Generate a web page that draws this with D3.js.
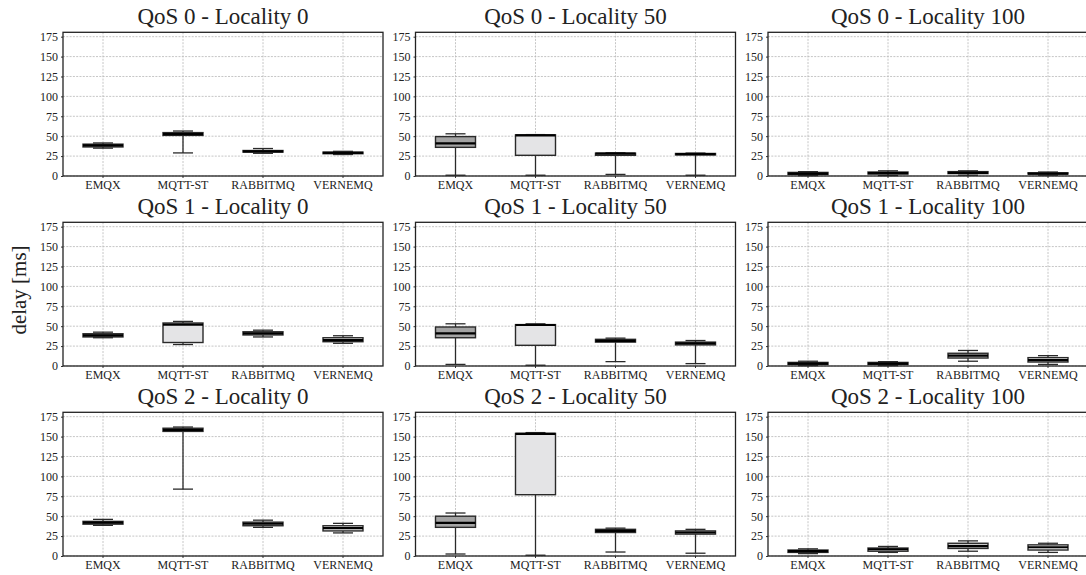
<!DOCTYPE html>
<html>
<head>
<meta charset="utf-8">
<script src="https://cdn.jsdelivr.net/npm/d3@7"></script>
<style>
  body { margin: 0; background: #fff; }
</style>
</head>
<body>
<div id="chart"></div>
<script>
// categories / panels
const brokers = ["EMQX", "MQTT-ST", "RABBITMQ", "VERNEMQ"];
const qosLevels = [0, 1, 2];
const localities = [0, 50, 100];
const yTicks = [0, 25, 50, 75, 100, 125, 150, 175];
const boxColors = ["#a4a4a4", "#e4e4e6", "#c9c9c9", "#efefef"];

// [whisker low, q1, median, q3, whisker high] per broker
const qos0loc0 = [[35, 36.5, 38.5, 40, 41.5], [29, 51, 52.5, 54.5, 56.5], [28.5, 30, 31, 32, 34.5], [27, 28, 29, 30, 31]];
const qos0loc50 = [[1, 36, 41, 49.5, 53], [1, 26, 51, 51.7, 52], [2, 26, 28, 28.7, 29.2], [1, 26.5, 27.5, 28.3, 28.8]];
const qos0loc100 = [[0.5, 2, 3, 4.5, 5.5], [0.5, 2.5, 3.5, 5, 6.5], [1, 3, 4, 5.5, 6.5], [1, 2.5, 3, 4, 5]];
const qos1loc0 = [[35.5, 36.5, 38.5, 40.5, 42.5], [27, 29.5, 52, 54, 56], [36.5, 39, 41, 43, 45], [28.5, 30.5, 32.5, 35.5, 38]];
const qos1loc50 = [[2, 35.5, 41, 49, 53], [1, 26, 51.5, 52, 53], [5.5, 30, 31.5, 33.5, 35], [3, 26.5, 28.5, 30, 32]];
const qos1loc100 = [[0.5, 2, 3, 4.5, 6], [0.5, 2, 3, 4.5, 5.5], [6, 10, 13, 16, 19.5], [2, 5, 7.5, 10.5, 13]];
const qos2loc0 = [[38.5, 40, 42, 43.5, 46], [84, 156.5, 158.5, 160.5, 162], [36, 38, 40.5, 42.5, 45], [29, 31.5, 35, 38, 41]];
const qos2loc50 = [[2.5, 36, 41.5, 50, 54], [1, 77, 153.5, 154, 155], [5, 29.5, 31.5, 33.5, 35], [3.5, 27.5, 29.5, 31.5, 33.5]];
const qos2loc100 = [[3, 4.5, 6, 7.5, 9], [4.5, 6, 8.5, 10, 12], [6, 9.5, 12.5, 16, 19], [4.5, 7.5, 11, 14, 16]];

const panelData = [
  [qos0loc0, qos0loc50, qos0loc100],
  [qos1loc0, qos1loc50, qos1loc100],
  [qos2loc0, qos2loc50, qos2loc100]
];

const FONT = "'Liberation Serif', 'DejaVu Serif', serif";
const W = 1086, H = 575;
const colLeft = [63, 415.5, 768];
const rowTop = [32.3, 222.3, 412.3];
const pw = 320, ph = 143.7;

const svg = d3.select("#chart").append("svg")
  .attr("width", W).attr("height", H)
  .style("font-family", FONT);

const x = d3.scaleBand().domain(brokers).range([0, pw]).padding(0);
const y = d3.scaleLinear().domain([0, 180.5]).range([ph, 0]);
const bw = x.bandwidth() * 0.5;
const cw = x.bandwidth() * 0.25;
const cx = d => x(d) + x.bandwidth() / 2;

qosLevels.forEach((q, r) => {
  localities.forEach((loc, c) => {
    const g = svg.append("g")
      .attr("transform", `translate(${colLeft[c]},${rowTop[r]})`);

    // grid
    g.append("g").selectAll("line").data(yTicks).join("line")
      .attr("x1", 0).attr("x2", pw)
      .attr("y1", d => y(d)).attr("y2", d => y(d))
      .attr("stroke", "#b8b8b8").attr("stroke-width", 0.8)
      .attr("stroke-dasharray", "2,1.3");
    g.append("g").selectAll("line").data(brokers).join("line")
      .attr("x1", cx).attr("x2", cx)
      .attr("y1", 0).attr("y2", ph)
      .attr("stroke", "#b8b8b8").attr("stroke-width", 0.8)
      .attr("stroke-dasharray", "2,1.3");

    // boxes
    const data = panelData[r][c];
    const b = g.append("g").selectAll("g").data(data).join("g")
      .attr("transform", (d, i) => `translate(${cx(brokers[i])},0)`);
    b.append("line").attr("x1", 0).attr("x2", 0)
      .attr("y1", d => y(d[0])).attr("y2", d => y(d[1]))
      .attr("stroke", "#2a2a2a").attr("stroke-width", 1.3);
    b.append("line").attr("x1", 0).attr("x2", 0)
      .attr("y1", d => y(d[3])).attr("y2", d => y(d[4]))
      .attr("stroke", "#2a2a2a").attr("stroke-width", 1.3);
    b.append("line").attr("x1", -cw / 2).attr("x2", cw / 2)
      .attr("y1", d => y(d[0])).attr("y2", d => y(d[0]))
      .attr("stroke", "#2a2a2a").attr("stroke-width", 1.3);
    b.append("line").attr("x1", -cw / 2).attr("x2", cw / 2)
      .attr("y1", d => y(d[4])).attr("y2", d => y(d[4]))
      .attr("stroke", "#2a2a2a").attr("stroke-width", 1.3);
    b.append("rect")
      .attr("x", -bw / 2).attr("width", bw)
      .attr("y", d => y(d[3])).attr("height", d => y(d[1]) - y(d[3]))
      .attr("fill", (d, i) => boxColors[i])
      .attr("stroke", "#2a2a2a").attr("stroke-width", 1.4);
    b.append("line").attr("x1", -bw / 2).attr("x2", bw / 2)
      .attr("y1", d => y(d[2])).attr("y2", d => y(d[2]))
      .attr("stroke", "#000").attr("stroke-width", 2.2);

    // axes
    const ya = g.append("g").call(d3.axisLeft(y).tickValues(yTicks).tickSize(2).tickPadding(3));
    ya.attr("font-family", FONT).attr("font-size", 12);
    ya.select(".domain").remove();
    ya.selectAll("text").attr("fill", "#222");
    ya.selectAll("line").attr("stroke", "#333");
    const xa = g.append("g").attr("transform", `translate(0,${ph})`)
      .call(d3.axisBottom(x).tickSize(2).tickPadding(2));
    xa.attr("font-family", FONT).attr("font-size", 12);
    xa.select(".domain").remove();
    xa.selectAll("text").attr("fill", "#222");
    xa.selectAll("line").attr("stroke", "#333");

    // frame
    g.append("rect").attr("width", pw).attr("height", ph)
      .attr("fill", "none").attr("stroke", "#222").attr("stroke-width", 1.3);

    // title
    g.append("text")
      .attr("x", pw / 2).attr("y", -8)
      .attr("text-anchor", "middle")
      .attr("font-family", FONT)
      .attr("font-size", 23)
      .attr("fill", "#222")
      .text(`QoS ${q} - Locality ${loc}`);
  });
});

svg.append("text")
  .attr("transform", "translate(26,290) rotate(-90)")
  .attr("text-anchor", "middle")
  .attr("font-family", FONT)
  .attr("font-size", 21)
  .attr("fill", "#222")
  .text("delay [ms]");
</script>
</body>
</html>
